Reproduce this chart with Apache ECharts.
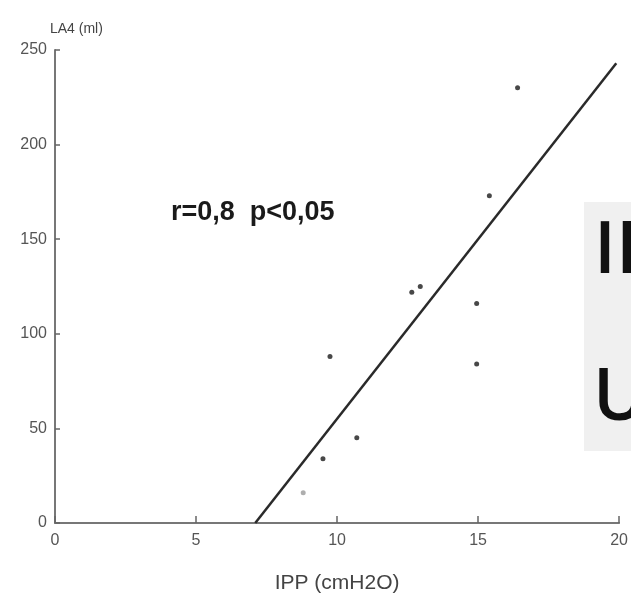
<!DOCTYPE html>
<html>
<head>
<meta charset="utf-8">
<style>
  html, body { margin: 0; padding: 0; background: #fff; }
  #chart { width: 631px; height: 608px; }
</style>
<script src="https://cdn.jsdelivr.net/npm/echarts@6/dist/echarts.min.js"></script>
</head>
<body>
<div id="chart"></div>
<script>
// Measured points: IPP (cmH2O) vs LA4 (ml)
const ippValues = [16.4, 15.4, 12.65, 12.95, 14.95, 9.75, 14.95, 10.7, 9.5, 8.8];
const la4Values = [230, 173, 122, 125, 116, 88, 84, 45, 34, 16];

// Regression line end points
const fitX = [7.1, 19.9];
const fitY = [0, 243];

const xTicks = [0, 5, 10, 15, 20];
const yTicks = [0, 50, 100, 150, 200, 250];

const annotation = 'r=0,8  p<0,05';

const points = ippValues.map((x, i) => ({
  value: [x, la4Values[i]],
  itemStyle: { color: i === ippValues.length - 1 ? '#9a9a9a' : '#1a1a1a' }
}));
const fitLine = fitX.map((x, i) => [x, fitY[i]]);

const labelFont = 'Liberation Sans Narrow, Liberation Sans, sans-serif';

const chart = echarts.init(document.getElementById('chart'));
chart.setOption({
  animation: false,
  backgroundColor: '#ffffff',
  grid: { left: 55, right: 11, top: 50, bottom: 85 },
  xAxis: {
    type: 'value',
    min: xTicks[0],
    max: xTicks[xTicks.length - 1],
    interval: 5,
    name: 'IPP (cmH2O)',
    nameLocation: 'middle',
    nameGap: 50,
    nameTextStyle: { fontFamily: labelFont, fontSize: 21, color: '#444' },
    axisLine: { lineStyle: { color: '#777', width: 2 } },
    axisTick: { inside: true, length: 7, lineStyle: { color: '#666', width: 1.5 } },
    axisLabel: { fontFamily: labelFont, fontSize: 16, color: '#555', margin: 10 },
    splitLine: { show: false }
  },
  yAxis: {
    type: 'value',
    min: yTicks[0],
    max: yTicks[yTicks.length - 1],
    interval: 50,
    name: 'LA4 (ml)',
    nameLocation: 'end',
    nameGap: 14,
    nameTextStyle: { fontFamily: labelFont, fontSize: 14, color: '#444', align: 'left', padding: [0, 0, 0, -5] },
    axisLine: { show: true, lineStyle: { color: '#777', width: 2 } },
    axisTick: { show: true, inside: true, length: 5, lineStyle: { color: '#666', width: 1.5 } },
    axisLabel: { fontFamily: labelFont, fontSize: 16, color: '#555', margin: 8 },
    splitLine: { show: false }
  },
  series: [
    {
      type: 'line',
      data: fitLine,
      symbol: 'none',
      lineStyle: { color: '#2a2a2a', width: 2.5 },
      z: 2
    },
    {
      type: 'scatter',
      data: points,
      symbolSize: 5,
      z: 3
    }
  ],
  graphic: [
    {
      type: 'text',
      x: 171,
      y: 199,
      style: {
        text: annotation,
        font: 'bold 27px Liberation Sans, sans-serif',
        fill: '#1a1a1a'
      }
    },
    {
      type: 'rect',
      shape: { x: 584, y: 202, width: 60, height: 249 },
      style: { fill: '#f0f0f0' },
      z: 10
    },
    {
      type: 'text',
      x: 594,
      y: 216,
      style: {
        text: 'IP',
        font: '600 72px Open Sans, sans-serif',
        fill: '#111'
      },
      z: 11
    },
    {
      type: 'text',
      x: 593,
      y: 363,
      style: {
        text: 'U',
        font: '600 72px Open Sans, sans-serif',
        fill: '#111'
      },
      z: 11
    }
  ]
});
</script>
</body>
</html>
